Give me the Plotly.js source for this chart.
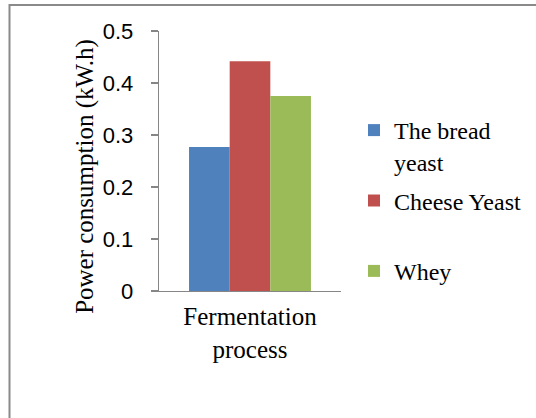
<!DOCTYPE html>
<html>
<head>
<meta charset="utf-8">
<script src="https://cdn.plot.ly/plotly-3.0.1.min.js"></script>
<style>
  html, body { margin: 0; padding: 0; background: #ffffff; }
  #chart { width: 536px; height: 418px; }
</style>
</head>
<body>
<div id="chart"></div>
<script>
// ---- data ----
var categories = ['Fermentation<br>process'];
var seriesNames = ['The bread<br>yeast', 'Cheese Yeast<br> ', 'Whey<br> '];
var breadYeast = [0.277];
var cheeseYeast = [0.442];
var whey = [0.375];
var yTickVals = [0, 0.1, 0.2, 0.3, 0.4, 0.5];
var yTickText = ['0', '0.1', '0.2', '0.3', '0.4', '0.5'];
var yTitle = 'Power consumption (kW.h)';

var colors = ['#4F81BD', '#C0504D', '#9BBB59'];
var seriesValues = [breadYeast, cheeseYeast, whey];

var traces = seriesValues.map(function (vals, i) {
  return {
    type: 'bar',
    x: categories,
    y: vals,
    name: seriesNames[i],
    legendgroup: 'g' + i,
    marker: { color: colors[i], line: { width: 0 } },
    hoverinfo: 'y'
  };
});

var serif = 'Liberation Serif, Times New Roman, serif';
var sans = 'Liberation Sans, Arial, sans-serif';

var L = 159, R = 341, T = 31, B = 290.7;
function px(x) { return (x - L) / (R - L); }
function py(y) { return (B - y) / (B - T); }

var layout = {
  width: 536,
  height: 418,
  margin: { l: 159, r: 195, t: 31, b: 127.3, pad: 0 },
  paper_bgcolor: '#ffffff',
  plot_bgcolor: '#ffffff',
  barmode: 'group',
  bargap: 0.33,
  bargroupgap: 0,
  showlegend: true,
  legend: {
    xref: 'container', yref: 'container',
    x: 354 / 536, xanchor: 'left',
    y: 1 - 108 / 418, yanchor: 'top',
    valign: 'top',
    traceorder: 'grouped',
    tracegroupgap: 5,
    font: { family: serif, size: 24, color: '#000000' },
    bgcolor: 'rgba(0,0,0,0)',
    borderwidth: 0
  },
  xaxis: {
    type: 'category',
    showline: true,
    linecolor: '#868686',
    linewidth: 1.3,
    ticks: '',
    showgrid: false,
    zeroline: false,
    tickfont: { family: serif, size: 25, color: '#000000' },
    ticklabelstandoff: 3,
    fixedrange: true
  },
  yaxis: {
    range: [0, 0.5],
    tickvals: yTickVals,
    ticktext: yTickText,
    showline: true,
    linecolor: '#868686',
    linewidth: 1.3,
    ticks: 'outside',
    ticklen: 7,
    tickcolor: '#868686',
    tickwidth: 1.3,
    showgrid: false,
    zeroline: false,
    tickfont: { family: sans, size: 22, color: '#000000' },
    ticklabelstandoff: 13,
    fixedrange: true
  },
  annotations: [{
    text: yTitle,
    xref: 'paper', yref: 'paper',
    x: px(85), y: py(176.7),
    xanchor: 'center', yanchor: 'middle',
    textangle: -90,
    showarrow: false,
    font: { family: serif, size: 25, color: '#000000' }
  }],
  shapes: [{
    type: 'rect',
    xref: 'paper', yref: 'paper',
    x0: px(9.5), x1: px(560),
    y0: py(440), y1: py(5),
    line: { color: '#8a8a8a', width: 2 },
    fillcolor: 'rgba(0,0,0,0)',
    layer: 'above'
  }]
};

Plotly.newPlot('chart', traces, layout, { displayModeBar: false, staticPlot: true });
</script>
</body>
</html>
